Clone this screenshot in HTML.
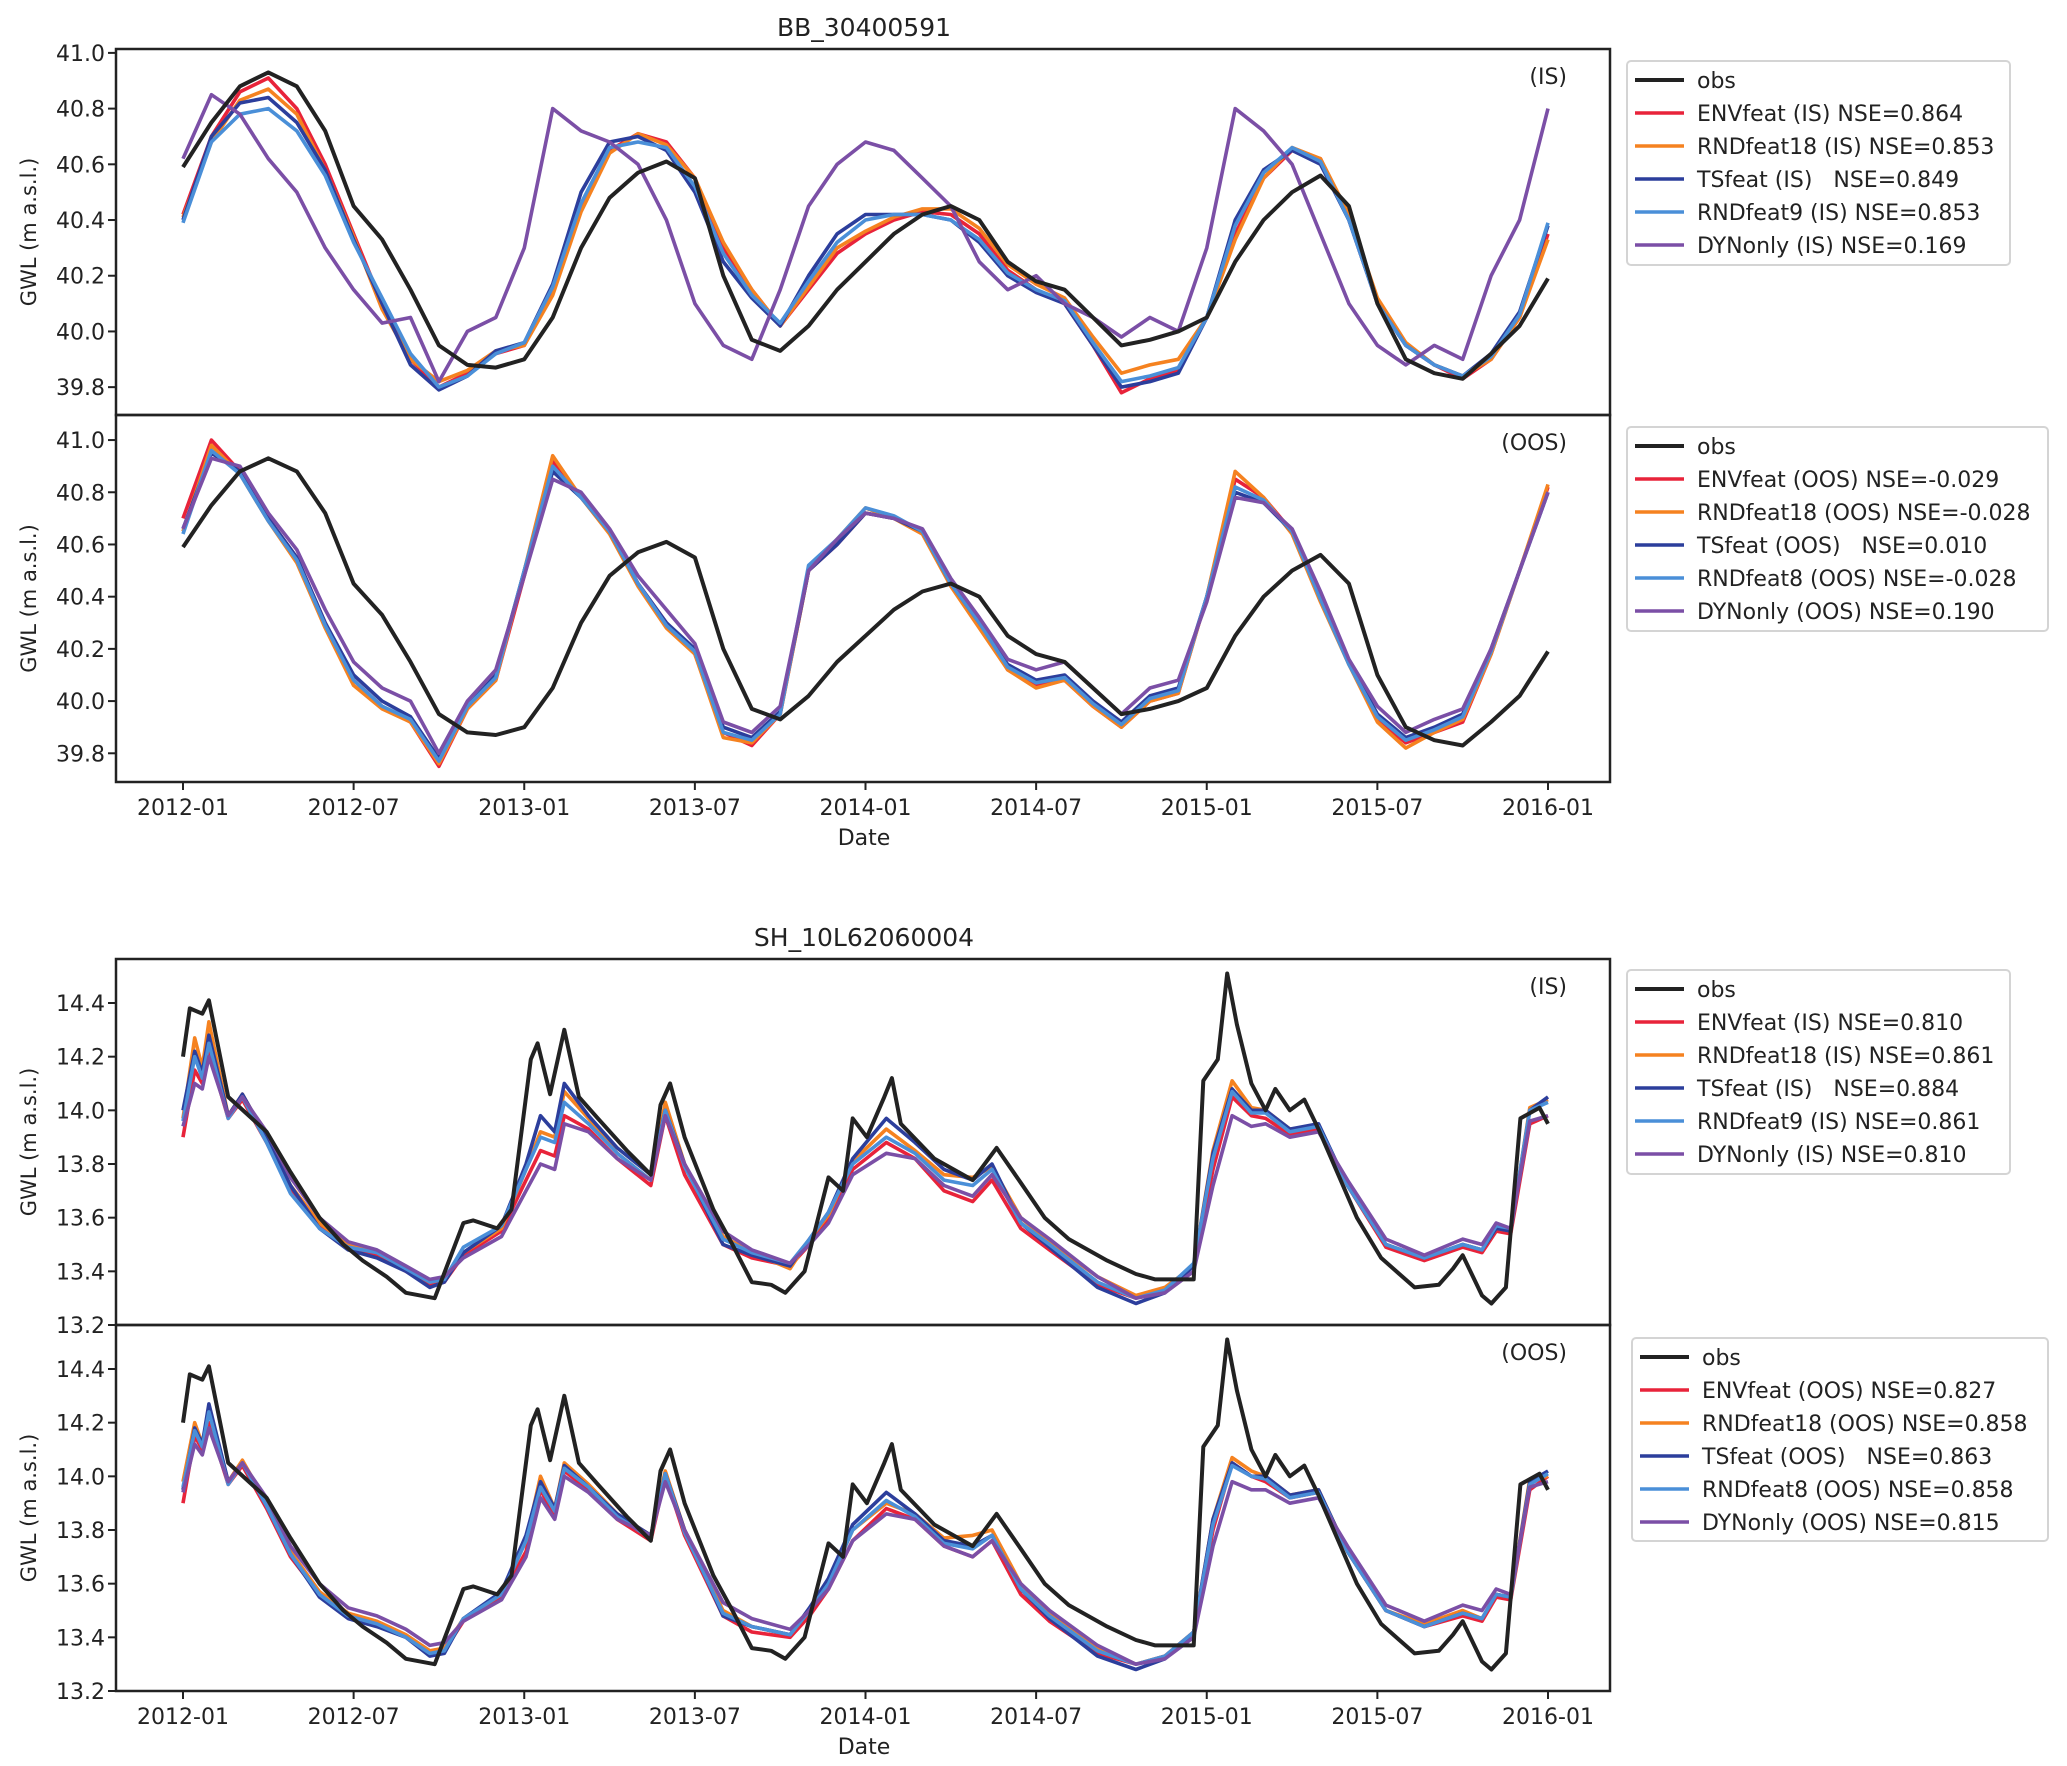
<!DOCTYPE html>
<html><head><meta charset="utf-8"><style>
html,body{margin:0;padding:0;background:#fff;}
svg{display:block;font-family:"DejaVu Sans","Liberation Sans",sans-serif;}
text{fill:#222;}
</style></head><body>
<svg id="chart" width="2067" height="1766" viewBox="0 0 2067 1766" xmlns="http://www.w3.org/2000/svg">
<rect x="0" y="0" width="2067" height="1766" fill="#fff"/>
<text x="864" y="36" font-size="25" text-anchor="middle">BB_30400591</text>
<text x="864" y="946" font-size="25" text-anchor="middle">SH_10L62060004</text>
<text x="864" y="845" font-size="22" text-anchor="middle">Date</text>
<text x="864" y="1754" font-size="22" text-anchor="middle">Date</text>
<g id="plots"></g>
</svg>
<script>
// ---------- data ----------
const xTickLabels = ["2012-01","2012-07","2013-01","2013-07","2014-01","2014-07","2015-01","2015-07","2016-01"];
const xTickMonths = [0,6,12,18,24,30,36,42,48];
const bbMonths = [0,1,2,3,4,5,6,7,8,9,10,11,12,13,14,15,16,17,18,19,20,21,22,23,24,25,26,27,28,29,30,31,32,33,34,35,36,37,38,39,40,41,42,43,44,45,46,47,48];
const bbObs = [40.59,40.75,40.88,40.93,40.88,40.72,40.45,40.33,40.15,39.95,39.88,39.87,39.90,40.05,40.30,40.48,40.57,40.61,40.55,40.20,39.97,39.93,40.02,40.15,40.25,40.35,40.42,40.45,40.40,40.25,40.18,40.15,40.05,39.95,39.97,40.00,40.05,40.25,40.40,40.50,40.56,40.45,40.10,39.90,39.85,39.83,39.92,40.02,40.19];
const bbEnvIS = [40.42,40.70,40.86,40.91,40.80,40.60,40.35,40.10,39.90,39.80,39.85,39.92,39.95,40.15,40.45,40.65,40.71,40.68,40.55,40.30,40.15,40.02,40.15,40.28,40.35,40.40,40.43,40.42,40.35,40.22,40.15,40.10,39.95,39.78,39.83,39.86,40.05,40.35,40.55,40.65,40.62,40.40,40.10,39.95,39.88,39.83,39.90,40.05,40.35];
const bbRnd18IS = [40.41,40.68,40.83,40.87,40.78,40.58,40.34,40.08,39.90,39.82,39.86,39.93,39.95,40.13,40.43,40.64,40.71,40.67,40.55,40.32,40.15,40.02,40.16,40.30,40.36,40.41,40.44,40.44,40.37,40.24,40.17,40.12,39.98,39.85,39.88,39.90,40.05,40.33,40.55,40.66,40.62,40.42,40.12,39.96,39.88,39.84,39.90,40.05,40.33];
const bbTsIS = [40.40,40.70,40.82,40.84,40.75,40.58,40.33,40.10,39.88,39.79,39.84,39.93,39.96,40.17,40.50,40.68,40.70,40.65,40.50,40.25,40.12,40.02,40.20,40.35,40.42,40.42,40.42,40.40,40.32,40.20,40.14,40.10,39.95,39.80,39.82,39.85,40.05,40.40,40.58,40.65,40.60,40.40,40.10,39.95,39.88,39.84,39.92,40.07,40.38];
const bbRnd9IS = [40.39,40.68,40.78,40.80,40.72,40.56,40.32,40.12,39.92,39.80,39.84,39.92,39.96,40.16,40.46,40.66,40.68,40.66,40.52,40.28,40.13,40.03,40.18,40.32,40.40,40.42,40.42,40.40,40.33,40.21,40.15,40.11,39.96,39.82,39.84,39.87,40.05,40.38,40.57,40.66,40.61,40.40,40.10,39.95,39.88,39.84,39.91,40.06,40.39];
const bbDynIS = [40.62,40.85,40.78,40.62,40.50,40.30,40.15,40.03,40.05,39.82,40.00,40.05,40.30,40.80,40.72,40.68,40.60,40.40,40.10,39.95,39.90,40.15,40.45,40.60,40.68,40.65,40.55,40.45,40.25,40.15,40.20,40.10,40.05,39.98,40.05,40.00,40.30,40.80,40.72,40.60,40.35,40.10,39.95,39.88,39.95,39.90,40.20,40.40,40.80];
const bbEnvOOS = [40.70,41.00,40.88,40.70,40.55,40.30,40.08,39.98,39.92,39.75,39.97,40.08,40.48,40.92,40.78,40.65,40.45,40.30,40.18,39.88,39.83,39.95,40.50,40.60,40.72,40.70,40.65,40.45,40.30,40.12,40.06,40.08,39.98,39.90,40.00,40.03,40.40,40.85,40.78,40.65,40.40,40.15,39.93,39.84,39.88,39.92,40.18,40.50,40.82];
const bbRnd18OOS = [40.65,40.98,40.87,40.69,40.53,40.28,40.06,39.97,39.92,39.76,39.97,40.08,40.50,40.94,40.78,40.64,40.44,40.28,40.18,39.86,39.84,39.95,40.50,40.62,40.74,40.70,40.64,40.44,40.28,40.12,40.05,40.08,39.98,39.90,40.00,40.03,40.40,40.88,40.78,40.64,40.38,40.14,39.92,39.82,39.88,39.93,40.18,40.50,40.83];
const bbTsOOS = [40.66,40.95,40.88,40.70,40.55,40.30,40.10,40.00,39.94,39.78,39.98,40.10,40.50,40.88,40.78,40.65,40.45,40.30,40.20,39.90,39.86,39.96,40.50,40.60,40.72,40.70,40.65,40.45,40.30,40.14,40.08,40.10,40.00,39.92,40.02,40.05,40.40,40.80,40.76,40.65,40.40,40.15,39.95,39.86,39.90,39.95,40.20,40.50,40.80];
const bbRnd8OOS = [40.64,40.96,40.87,40.69,40.54,40.29,40.08,39.98,39.93,39.77,39.98,40.09,40.50,40.90,40.78,40.65,40.45,40.29,40.19,39.88,39.85,39.95,40.52,40.62,40.74,40.71,40.65,40.45,40.30,40.13,40.07,40.09,39.99,39.91,40.01,40.04,40.40,40.82,40.77,40.65,40.39,40.14,39.94,39.85,39.89,39.94,40.19,40.50,40.80];
const bbDynOOS = [40.66,40.93,40.90,40.72,40.58,40.35,40.15,40.05,40.00,39.80,40.00,40.12,40.48,40.85,40.80,40.66,40.48,40.35,40.22,39.92,39.88,39.98,40.50,40.62,40.72,40.70,40.66,40.47,40.32,40.16,40.12,40.15,40.05,39.95,40.05,40.08,40.38,40.78,40.76,40.66,40.42,40.16,39.98,39.88,39.93,39.97,40.20,40.50,40.80];

const shObsMonths = [0,0.24,0.68,0.91,1.59,2.94,3.78,4.8,5.64,6.32,7.16,7.84,8.85,9.86,10.2,11.05,11.55,12.23,12.47,12.91,13.41,13.92,14.59,15.61,16.45,16.79,17.13,17.64,18.65,19.32,20.0,20.68,21.18,21.86,22.7,23.21,23.55,24.05,24.66,24.93,25.24,26.42,27.77,28.61,29.46,30.3,31.15,32.5,33.51,34.19,35.54,35.88,36.39,36.72,37.06,37.57,38.07,38.41,38.92,39.43,39.93,41.28,42.13,43.31,44.16,44.66,45.0,45.68,46.01,46.52,47.03,47.7,48.0];
const shObs = [14.2,14.38,14.36,14.41,14.05,13.92,13.77,13.6,13.5,13.44,13.38,13.32,13.30,13.58,13.59,13.56,13.63,14.19,14.25,14.06,14.3,14.05,13.97,13.85,13.76,14.02,14.1,13.9,13.63,13.5,13.36,13.35,13.32,13.4,13.75,13.7,13.97,13.9,14.05,14.12,13.95,13.82,13.74,13.86,13.73,13.6,13.52,13.44,13.39,13.37,13.37,14.11,14.19,14.51,14.32,14.1,14.0,14.08,14.0,14.04,13.93,13.6,13.45,13.34,13.35,13.41,13.46,13.31,13.28,13.34,13.97,14.01,13.95];
const shModelMonths = [0,0.41,0.68,0.91,1.59,2.09,2.94,3.78,4.8,5.81,6.82,7.84,8.68,9.19,9.86,11.2,12.06,12.57,13.07,13.41,14.26,15.27,16.45,16.96,17.64,18.99,20.0,21.35,22.03,22.7,23.55,24.73,25.74,26.76,27.77,28.45,29.46,30.47,32.16,33.51,34.53,35.54,36.22,36.89,37.57,38.07,38.92,39.93,40.95,42.3,43.65,45.0,45.68,46.18,46.69,47.36,48.0];
const shEnvIS  = [13.90,14.15,14.10,14.22,13.97,14.04,13.88,13.70,13.57,13.49,13.46,13.40,13.35,13.36,13.46,13.55,13.74,13.85,13.83,13.98,13.93,13.82,13.72,13.98,13.76,13.50,13.45,13.42,13.50,13.59,13.78,13.88,13.82,13.70,13.66,13.74,13.56,13.48,13.35,13.30,13.33,13.42,13.78,14.05,13.98,13.97,13.91,13.93,13.72,13.49,13.44,13.49,13.47,13.55,13.54,13.95,13.98];
const shRnd18IS= [13.97,14.27,14.16,14.33,13.98,14.06,13.90,13.72,13.58,13.50,13.47,13.41,13.36,13.37,13.47,13.56,13.78,13.92,13.90,14.07,13.97,13.84,13.74,14.03,13.80,13.53,13.47,13.41,13.52,13.61,13.81,13.93,13.85,13.76,13.75,13.79,13.60,13.51,13.38,13.31,13.34,13.42,13.85,14.11,14.01,14.00,13.93,13.94,13.72,13.50,13.45,13.50,13.48,13.56,13.55,14.01,14.04];
const shTsIS   = [14.00,14.22,14.14,14.28,13.98,14.06,13.90,13.72,13.56,13.48,13.45,13.40,13.34,13.36,13.47,13.57,13.80,13.98,13.92,14.10,13.98,13.86,13.76,14.00,13.80,13.50,13.46,13.42,13.52,13.62,13.82,13.97,13.88,13.78,13.74,13.80,13.58,13.49,13.34,13.28,13.32,13.42,13.84,14.08,14.00,14.00,13.93,13.95,13.72,13.50,13.45,13.50,13.48,13.56,13.55,14.00,14.05];
const shRnd9IS = [13.96,14.20,14.12,14.25,13.97,14.05,13.88,13.69,13.56,13.49,13.47,13.41,13.36,13.37,13.49,13.57,13.78,13.90,13.88,14.03,13.95,13.84,13.74,14.00,13.79,13.52,13.47,13.43,13.52,13.62,13.80,13.90,13.84,13.74,13.72,13.78,13.58,13.50,13.36,13.30,13.33,13.43,13.82,14.07,13.99,13.99,13.92,13.94,13.72,13.50,13.45,13.50,13.48,13.57,13.56,14.00,14.03];
const shDynIS  = [13.94,14.10,14.08,14.20,13.98,14.05,13.92,13.75,13.60,13.51,13.48,13.42,13.37,13.38,13.45,13.53,13.70,13.80,13.78,13.95,13.92,13.82,13.74,13.98,13.80,13.55,13.48,13.43,13.50,13.58,13.76,13.84,13.82,13.72,13.68,13.76,13.60,13.52,13.38,13.30,13.32,13.40,13.72,13.98,13.94,13.95,13.90,13.92,13.74,13.52,13.46,13.52,13.50,13.58,13.56,13.96,13.98];
const shEnvOOS = [13.90,14.15,14.10,14.20,13.97,14.04,13.88,13.70,13.56,13.48,13.45,13.40,13.34,13.35,13.46,13.55,13.72,13.95,13.85,14.02,13.95,13.84,13.76,14.00,13.78,13.48,13.42,13.40,13.48,13.58,13.76,13.88,13.84,13.74,13.70,13.76,13.56,13.46,13.34,13.30,13.33,13.42,13.80,14.05,14.00,13.98,13.92,13.94,13.72,13.50,13.44,13.48,13.46,13.55,13.54,13.95,14.00];
const shRnd18OOS=[13.98,14.20,14.12,14.24,13.98,14.06,13.90,13.72,13.57,13.49,13.46,13.41,13.35,13.36,13.47,13.56,13.76,14.00,13.88,14.05,13.97,13.86,13.78,14.02,13.80,13.50,13.44,13.41,13.50,13.60,13.80,13.90,13.86,13.77,13.78,13.80,13.60,13.49,13.36,13.30,13.33,13.42,13.84,14.07,14.02,14.00,13.93,13.95,13.72,13.50,13.45,13.50,13.47,13.56,13.55,13.99,14.00];
const shTsOOS  = [13.95,14.18,14.12,14.27,13.98,14.05,13.89,13.71,13.55,13.47,13.44,13.40,13.33,13.34,13.47,13.57,13.78,13.98,13.88,14.04,13.96,13.86,13.78,14.01,13.80,13.48,13.44,13.41,13.51,13.62,13.82,13.94,13.86,13.76,13.74,13.78,13.58,13.47,13.33,13.28,13.32,13.42,13.84,14.05,14.00,14.00,13.93,13.95,13.72,13.50,13.44,13.49,13.47,13.56,13.55,13.98,14.02];
const shRnd8OOS= [13.96,14.17,14.11,14.24,13.97,14.05,13.89,13.71,13.56,13.48,13.45,13.40,13.34,13.35,13.47,13.56,13.76,13.96,13.87,14.03,13.96,13.85,13.77,14.01,13.79,13.49,13.44,13.41,13.50,13.60,13.80,13.91,13.85,13.75,13.73,13.78,13.58,13.48,13.35,13.30,13.33,13.42,13.82,14.04,14.00,13.99,13.92,13.94,13.72,13.50,13.44,13.49,13.47,13.56,13.55,13.97,14.01];
const shDynOOS = [13.94,14.12,14.08,14.18,13.98,14.05,13.92,13.74,13.60,13.51,13.48,13.43,13.37,13.38,13.46,13.54,13.70,13.92,13.84,14.00,13.94,13.84,13.78,13.98,13.80,13.53,13.47,13.43,13.50,13.58,13.76,13.86,13.84,13.74,13.70,13.76,13.60,13.50,13.37,13.30,13.32,13.40,13.74,13.98,13.95,13.95,13.90,13.92,13.74,13.52,13.46,13.52,13.50,13.58,13.56,13.96,13.98];

const bbTicks = [39.8,40.0,40.2,40.4,40.6,40.8,41.0];
const shTicks = [13.2,13.4,13.6,13.8,14.0,14.2,14.4];
const legendIS_BB = ["obs","ENVfeat (IS) NSE=0.864","RNDfeat18 (IS) NSE=0.853","TSfeat (IS)   NSE=0.849","RNDfeat9 (IS) NSE=0.853","DYNonly (IS) NSE=0.169"];
const legendOOS_BB = ["obs","ENVfeat (OOS) NSE=-0.029","RNDfeat18 (OOS) NSE=-0.028","TSfeat (OOS)   NSE=0.010","RNDfeat8 (OOS) NSE=-0.028","DYNonly (OOS) NSE=0.190"];
const legendIS_SH = ["obs","ENVfeat (IS) NSE=0.810","RNDfeat18 (IS) NSE=0.861","TSfeat (IS)   NSE=0.884","RNDfeat9 (IS) NSE=0.861","DYNonly (IS) NSE=0.810"];
const legendOOS_SH = ["obs","ENVfeat (OOS) NSE=0.827","RNDfeat18 (OOS) NSE=0.858","TSfeat (OOS)   NSE=0.863","RNDfeat8 (OOS) NSE=0.858","DYNonly (OOS) NSE=0.815"];

const COLORS = ["#222222","#e8233a","#f58220","#2c3e9c","#4a8fd8","#7b4fa6"];
const SERIES_NAMES = ["obs","envfeat","rndfeat18","tsfeat","rndfeat","dynonly"];
const NS = "http://www.w3.org/2000/svg";
const X0 = 116, X1 = 1610, XM0 = 183, XPM = (1548-183)/48;
function xScale(m){ return XM0 + m*XPM; }

function el(tag, attrs, parent){
  const e = document.createElementNS(NS, tag);
  for (const k in attrs) e.setAttribute(k, attrs[k]);
  parent.appendChild(e);
  return e;
}

function drawPanel(p){
  const root = document.getElementById("plots");
  const g = el("g", {}, root);
  
  
  const yS = v => p.bottom - (v - p.ymin)/(p.ymax - p.ymin)*(p.bottom - p.top);
  const clipId = "clip-" + p.name;
  const defs = el("defs", {}, g);
  const cp = el("clipPath", {id: clipId}, defs);
  el("rect", {x: X0, y: p.top, width: X1-X0, height: p.bottom-p.top}, cp);
  const lines = el("g", {"clip-path": "url(#"+clipId+")"}, g);
  const order = [1,2,3,4,5,0];
  order.forEach(i => {
    const xs = i===0 ? p.obsT : p.modT;
    const ys = p.series[i];
    let d = "";
    for (let k=0;k<ys.length;k++) d += (k?"L":"M") + xScale(xs[k]).toFixed(1) + "," + yS(ys[k]).toFixed(1);
    const path = el("path", {d: d, fill: "none", stroke: COLORS[i], "stroke-width": i===0?4:3.6, "stroke-linejoin":"round"}, lines);
    
    
  });
  const frame = el("rect", {x: X0, y: p.top, width: X1-X0, height: p.bottom-p.top, fill: "none", stroke: "#222", "stroke-width": 2.5}, g);
  
  
  p.ticks.forEach(t => {
    const y = yS(t);
    el("line", {x1: X0-8, x2: X0, y1: y, y2: y, stroke: "#222", "stroke-width": 2}, g);
    const tl = el("text", {x: X0-11, y: y+8, "font-size": 22, "text-anchor": "end"}, g);
    tl.textContent = t.toFixed(1);
    
    
  });
  const yl = el("text", {x: 0, y: 0, "font-size": 21, "text-anchor": "middle", transform: "translate(36," + ((p.top+p.bottom)/2) + ") rotate(-90)"}, g);
  yl.textContent = "GWL (m a.s.l.)";
  
  
  const tag = el("text", {x: 1567, y: p.tagY, "font-size": 22, "text-anchor": "end"}, g);
  tag.textContent = p.tag;
  
  
  if (p.xlabels){
    xTickMonths.forEach((m, i) => {
      const x = xScale(m);
      el("line", {x1: x, x2: x, y1: p.bottom, y2: p.bottom+8, stroke: "#222", "stroke-width": 2}, g);
      const xl = el("text", {x: x, y: p.bottom+33, "font-size": 22, "text-anchor": "middle"}, g);
      xl.textContent = xTickLabels[i];
      
      
    });
  }
  const lg = el("g", {}, g);
  
  
  el("rect", {x: p.lg.x, y: p.lg.y, width: p.lg.w, height: p.lg.h, rx: 4, fill: "#fff", stroke: "#d4d4d4", "stroke-width": 2}, lg);
  p.legend.forEach((txt, i) => {
    const cy = p.lg.y + 19 + i*33;
    el("line", {x1: p.lg.x+8, x2: p.lg.x+57, y1: cy, y2: cy, stroke: COLORS[i], "stroke-width": i===0?4:3.6}, lg);
    const lt = el("text", {x: p.lg.x+70, y: cy+8, "font-size": 22, "xml:space": "preserve", style: "white-space:pre"}, lg);
    lt.textContent = txt;
    
    
  });
}

drawPanel({name:"bb-is-panel", top:49, bottom:415, ymin:39.70, ymax:41.014, ticks:bbTicks, tag:"(IS)", tagY:84,
  obsT:bbMonths, modT:bbMonths, series:[bbObs,bbEnvIS,bbRnd18IS,bbTsIS,bbRnd9IS,bbDynIS], legend:legendIS_BB,
  lg:{x:1627,y:61,w:383,h:204}, xlabels:false});
drawPanel({name:"bb-oos-panel", top:415, bottom:782, ymin:39.69, ymax:41.096, ticks:bbTicks, tag:"(OOS)", tagY:450,
  obsT:bbMonths, modT:bbMonths, series:[bbObs,bbEnvOOS,bbRnd18OOS,bbTsOOS,bbRnd8OOS,bbDynOOS], legend:legendOOS_BB,
  lg:{x:1627,y:427,w:421,h:204}, xlabels:true});
drawPanel({name:"sh-is-panel", top:959, bottom:1325, ymin:13.2, ymax:14.564, ticks:shTicks, tag:"(IS)", tagY:994,
  obsT:shObsMonths, modT:shModelMonths, series:[shObs,shEnvIS,shRnd18IS,shTsIS,shRnd9IS,shDynIS], legend:legendIS_SH,
  lg:{x:1627,y:970,w:383,h:204}, xlabels:false});
drawPanel({name:"sh-oos-panel", top:1325, bottom:1691, ymin:13.2, ymax:14.564, ticks:shTicks, tag:"(OOS)", tagY:1360,
  obsT:shObsMonths, modT:shModelMonths, series:[shObs,shEnvOOS,shRnd18OOS,shTsOOS,shRnd8OOS,shDynOOS], legend:legendOOS_SH,
  lg:{x:1632,y:1338,w:416,h:203}, xlabels:true});
</script>
</body></html>
